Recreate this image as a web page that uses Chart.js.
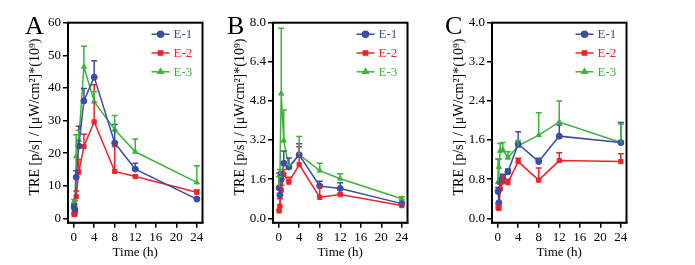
<!DOCTYPE html>
<html>
<head>
<meta charset="utf-8">
<script src="https://cdn.jsdelivr.net/npm/chart.js@4"></script>
<style>
body{margin:0;width:695px;height:265px;background:#fff;position:relative;overflow:hidden}
.p{position:absolute;top:0;width:225px;height:265px}
.lt{position:absolute;top:13px;font-family:"Liberation Serif";font-size:26px;line-height:26px;color:#000}
</style>
</head>
<body>
<div class="p" style="left:0"><canvas id="cA" width="225" height="265"></canvas></div>
<div class="p" style="left:205px"><canvas id="cB" width="225" height="265"></canvas></div>
<div class="p" style="left:424px"><canvas id="cC" width="225" height="265"></canvas></div>
<div class="lt" style="left:25px">A</div>
<div class="lt" style="left:227px">B</div>
<div class="lt" style="left:445px">C</div>
<script>
// sampling times (h)
let times = [0.083, 0.25, 0.5, 1, 2, 4, 8, 12, 24];
let xTicks = [0, 4, 8, 12, 16, 20, 24];
let seriesNames = ["E-1", "E-2", "E-3"];
let yTitle = "TRE [p/s] / [μW/cm²]*(10⁹)";

// panel A
let aE1 = [3.5, 2.4, 12.6, 22.2, 36.0, 43.3, 23.1, 15.1, 5.9];
let aE1err = [0.8, 0.6, 2.0, 6.0, 3.8, 5.0, 5.7, 1.8, 0.4];
let aE2 = [1.2, 1.3, 6.6, 14.2, 22.0, 29.6, 14.4, 12.8, 8.0];
let aE2err = [0.3, 0.4, 1.8, 3.8, 3.8, 11.4, 7.6, 0.4, 0.7];
let aE3 = [5.0, 4.6, 19.0, 24.0, 46.5, 35.8, 27.2, 20.4, 11.0];
let aE3err = [0.8, 0.8, 6.6, 3.0, 6.3, 3.0, 4.3, 3.9, 5.1];
let aTicks = [0, 10, 20, 30, 40, 50, 60];

// panel B
let bE1 = [1.25, 0.95, 1.6, 2.25, 2.1, 2.6, 1.32, 1.22, 0.6];
let bE1err = [0.6, 0.25, 0.3, 0.5, 0.37, 0.45, 0.2, 0.23, 0.05];
let bE2 = [0.3, 0.5, 1.15, 1.8, 1.48, 2.2, 0.86, 0.97, 0.52];
let bE2err = [0.05, 0.3, 0.2, 0.2, 0.2, 0.73, 0.45, 0.05, 0.05];
let bE3 = [1.3, 1.8, 5.1, 3.18, 2.1, 2.6, 1.95, 1.62, 0.8];
let bE3err = [0.4, 0.2, 2.67, 1.25, 0.1, 0.75, 0.3, 0.2, 0.08];
let bTicks = [0, 1.6, 3.2, 4.8, 6.4, 8.0];

// panel C
let cE1 = [0.55, 0.32, 0.74, 0.82, 0.95, 1.52, 1.16, 1.68, 1.55];
let cE1err = [0.08, 0.3, 0.08, 0.08, 0.06, 0.25, 0.07, 0.23, 0.41];
let cE2 = [0.22, 0.2, 0.6, 0.75, 0.73, 1.16, 0.78, 1.18, 1.16];
let cE2err = [0.08, 0.05, 0.1, 0.12, 0.07, 0.07, 0.25, 0.16, 0.16];
let cE3 = [0.74, 1.05, 1.38, 1.4, 1.24, 1.48, 1.7, 1.97, 1.55];
let cE3err = [0.48, 0.15, 0.15, 0.15, 0.12, 0.11, 0.46, 0.43, 0.38];
let cTicks = [0, 0.8, 1.6, 2.4, 3.2, 4.0];

let colors = ["#3a4da6", "#f0222a", "#3cb43c"];
let styles = ["circle", "rect", "triangle"];
let font = "Liberation Serif";

// error bars, box frame, y title and in-plot legend
const extras = {
  id: "extras",
  afterDatasetsDraw(chart) {
    const ctx = chart.ctx, xs = chart.scales.x, ys = chart.scales.y, a = chart.chartArea;
    chart.data.datasets.forEach(ds => {
      ctx.save();
      ctx.strokeStyle = ds.borderColor;
      ctx.lineWidth = 1.5;
      ds.data.forEach((p, j) => {
        let e = ds.err[j];
        if (!e) return;
        let x = xs.getPixelForValue(p.x);
        let y0 = ys.getPixelForValue(p.y), y1 = ys.getPixelForValue(p.y + e);
        ctx.beginPath();
        ctx.moveTo(x, y0); ctx.lineTo(x, y1);
        ctx.moveTo(x - 3, y1); ctx.lineTo(x + 3, y1);
        ctx.stroke();
      });
      ctx.restore();
    });
    ctx.save();
    ctx.strokeStyle = "#000";
    ctx.lineWidth = 2;
    ctx.strokeRect(a.left, a.top, a.right - a.left, a.bottom - a.top);
    // y title, sits a little above the plot centre like the original
    ctx.fillStyle = "#000";
    ctx.font = "14px " + font;
    ctx.textAlign = "center";
    ctx.textBaseline = "middle";
    ctx.translate(35, 117);
    ctx.rotate(-Math.PI / 2);
    ctx.fillText(yTitle, 0, 0);
    ctx.restore();
    // legend
    ctx.save();
    ctx.font = "13px " + font;
    ctx.textBaseline = "middle";
    seriesNames.forEach((n, i) => {
      let y = a.top + 11.5 + i * 18.8;
      ctx.strokeStyle = colors[i];
      ctx.fillStyle = colors[i];
      ctx.lineWidth = 1.5;
      ctx.beginPath();
      ctx.moveTo(a.right - 51, y); ctx.lineTo(a.right - 33, y);
      ctx.stroke();
      Chart.helpers.drawPoint(ctx, {pointStyle: styles[i], radius: 3, borderWidth: 1}, a.right - 42, y);
      ctx.fillText(n, a.right - 29, y + 0.5);
    });
    ctx.restore();
  }
};

function makePanel(id, vals, errs, yTicks, dec) {
  let yMax = yTicks[yTicks.length - 1];
  let datasets = vals.map((v, i) => ({
    label: seriesNames[i],
    data: times.map((t, j) => ({x: t, y: v[j]})),
    err: errs[i],
    borderColor: colors[i],
    backgroundColor: colors[i],
    borderWidth: 1.5,
    pointStyle: styles[i],
    pointRadius: 3,
    pointBorderWidth: 1,
    showLine: true,
    order: i
  }));
  new Chart(document.getElementById(id), {
    type: "scatter",
    data: {datasets: datasets},
    plugins: [extras],
    options: {
      responsive: false,
      animation: false,
      events: [],
      layout: {padding: {left: 25, top: 22.7, right: 22.5, bottom: 0}},
      plugins: {legend: {display: false}, tooltip: {enabled: false}},
      scales: {
        x: {
          type: "linear", min: -1.1, max: 25.1,
          afterBuildTicks: s => { s.ticks = xTicks.map(v => ({value: v})); },
          afterFit: s => { s.height = 42.3; },
          grid: {drawOnChartArea: false, drawTicks: true, tickLength: 5, color: "#000", lineWidth: 1.5},
          border: {color: "#000", width: 1.5},
          ticks: {color: "#000", font: {family: font, size: 13}, padding: 2, maxRotation: 0},
          title: {display: true, text: "Time (h)", color: "#000", font: {family: font, size: 13}, padding: {top: 0, bottom: 5}}
        },
        y: {
          type: "linear", min: -yMax * 0.0225, max: yMax,
          afterBuildTicks: s => { s.ticks = yTicks.map(v => ({value: v})); },
          afterFit: s => { s.width = 43; },
          grid: {drawOnChartArea: false, drawTicks: true, tickLength: 5, color: "#000", lineWidth: 1.5},
          border: {color: "#000", width: 1.5},
          ticks: {color: "#000", font: {family: font, size: 13}, padding: 2, callback: v => v.toFixed(dec)},
          title: {display: false}
        }
      }
    }
  });
}

makePanel("cA", [aE1, aE2, aE3], [aE1err, aE2err, aE3err], aTicks, 0);
makePanel("cB", [bE1, bE2, bE3], [bE1err, bE2err, bE3err], bTicks, 1);
makePanel("cC", [cE1, cE2, cE3], [cE1err, cE2err, cE3err], cTicks, 1);
</script>
</body>
</html>
